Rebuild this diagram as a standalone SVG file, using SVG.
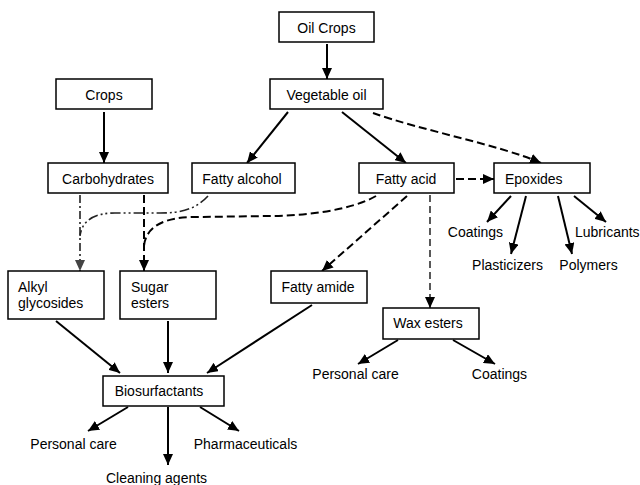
<svg xmlns="http://www.w3.org/2000/svg" width="640" height="485" viewBox="0 0 640 485">
<style>
.box{fill:#fff;stroke:#000;stroke-width:1.5}
.t{font-family:"Liberation Sans",Arial,sans-serif;font-size:14px;fill:#000}
.c{text-anchor:middle}
.s{fill:none;stroke:#000;stroke-width:2}
.d{fill:none;stroke:#000;stroke-width:2;stroke-dasharray:8 4}
.dt{fill:none;stroke:#000;stroke-width:1.3;stroke-dasharray:7 4}
.dd{fill:none;stroke:#222;stroke-width:1.6;stroke-dasharray:8 3 2 3}
.ddd{fill:none;stroke:#222;stroke-width:1.6;stroke-dasharray:10 3 2 3 2 3}
</style>
<defs>
<marker id="ah" markerWidth="12" markerHeight="10" refX="11" refY="5" orient="auto" markerUnits="userSpaceOnUse"><path d="M0,0 L11,5 L0,10 z" fill="#000"/></marker>
<marker id="ahg" markerWidth="12" markerHeight="10" refX="11" refY="5" orient="auto" markerUnits="userSpaceOnUse"><path d="M0,0 L11,5 L0,10 z" fill="#444"/></marker>
</defs>
<g id="connectors">
<line class="s" x1="327" y1="44" x2="327" y2="79" marker-end="url(#ah)"/>
<line class="s" x1="104" y1="112" x2="104" y2="163" marker-end="url(#ah)"/>
<line class="s" x1="288" y1="112" x2="247" y2="163" marker-end="url(#ah)"/>
<line class="s" x1="342" y1="112" x2="406" y2="163" marker-end="url(#ah)"/>
<path class="d" d="M373,113 C420,130 500,145 541,163" marker-end="url(#ah)"/>
<line class="d" stroke-width="2.5" x1="456" y1="179" x2="494" y2="179" marker-end="url(#ah)"/>
<line class="s" x1="511" y1="196" x2="487" y2="222" marker-end="url(#ah)"/>
<line class="s" x1="526" y1="196" x2="511" y2="254" marker-end="url(#ah)"/>
<line class="s" x1="558" y1="196" x2="572" y2="254" marker-end="url(#ah)"/>
<line class="s" x1="574" y1="196" x2="606" y2="222" marker-end="url(#ah)"/>
<line class="dd" x1="80" y1="195" x2="80" y2="271" marker-end="url(#ahg)"/>
<path class="ddd" d="M208,196 C196,209 182,213 160,213 L115,213 C95,213 82,220 80,236"/>
<line class="d" stroke-width="2.2" x1="144" y1="195" x2="144" y2="271" marker-end="url(#ah)"/>
<path class="d" stroke-width="2.5" d="M376,196 C352,210 305,216 270,216 L195,217 C165,217 146,226 144,246"/>
<line class="d" x1="407" y1="196" x2="322" y2="271" marker-end="url(#ah)"/>
<line class="dt" x1="430" y1="195" x2="430" y2="308" marker-end="url(#ah)"/>
<line class="s" x1="56" y1="321" x2="120" y2="373" marker-end="url(#ah)"/>
<line class="s" x1="168" y1="321" x2="168" y2="373" marker-end="url(#ah)"/>
<line class="s" x1="312" y1="305" x2="207" y2="373" marker-end="url(#ah)"/>
<line class="s" x1="128" y1="407" x2="88" y2="431" marker-end="url(#ah)"/>
<line class="s" x1="168" y1="407" x2="168" y2="465" marker-end="url(#ah)"/>
<line class="s" x1="200" y1="407" x2="239" y2="431" marker-end="url(#ah)"/>
<line class="s" x1="398" y1="340" x2="358" y2="364" marker-end="url(#ah)"/>
<line class="s" x1="453" y1="340" x2="495" y2="364" marker-end="url(#ah)"/>
</g>
<g id="oil-crops"><rect class="box" x="279" y="12" width="95" height="30"/><text class="t c" x="326.5" y="33">Oil Crops</text></g>
<g id="vegetable-oil"><rect class="box" x="270" y="79" width="113" height="30"/><text class="t c" x="326.5" y="100">Vegetable oil</text></g>
<g id="crops"><rect class="box" x="56" y="79" width="96" height="30"/><text class="t c" x="104" y="100">Crops</text></g>
<g id="carbohydrates"><rect class="box" x="48" y="163" width="120" height="30"/><text class="t c" x="108" y="184">Carbohydrates</text></g>
<g id="fatty-alcohol"><rect class="box" x="192" y="163" width="103" height="30"/><text class="t c" x="242" y="184">Fatty alcohol</text></g>
<g id="fatty-acid"><rect class="box" x="359" y="163" width="95" height="30"/><text class="t c" x="406" y="184">Fatty acid</text></g>
<g id="epoxides"><rect class="box" x="494" y="163" width="96" height="30"/><text class="t" x="505" y="184">Epoxides</text></g>
<g id="alkyl-glycosides"><rect class="box" x="8" y="271" width="96" height="48"/><text class="t" x="18" y="292">Alkyl</text><text class="t" x="18" y="308">glycosides</text></g>
<g id="sugar-esters"><rect class="box" x="120" y="271" width="96" height="48"/><text class="t" x="131" y="292">Sugar</text><text class="t" x="131" y="308">esters</text></g>
<g id="fatty-amide"><rect class="box" x="271" y="271" width="96" height="32"/><text class="t c" x="318" y="292">Fatty amide</text></g>
<g id="wax-esters"><rect class="box" x="383" y="308" width="96" height="31"/><text class="t c" x="428" y="328">Wax esters</text></g>
<g id="biosurfactants"><rect class="box" x="103" y="376" width="121" height="30"/><text class="t c" x="159" y="396">Biosurfactants</text></g>
<g id="labels">
<text class="t c" x="475.5" y="237">Coatings</text>
<text class="t" x="575" y="237">Lubricants</text>
<text class="t c" x="507.5" y="270">Plasticizers</text>
<text class="t c" x="588.5" y="270">Polymers</text>
<text class="t c" x="73.5" y="449">Personal care</text>
<text class="t c" x="245.5" y="449">Pharmaceuticals</text>
<text class="t c" x="156.5" y="483">Cleaning agents</text>
<text class="t c" x="355.5" y="379">Personal care</text>
<text class="t c" x="499.5" y="379">Coatings</text>
</g>
</svg>
